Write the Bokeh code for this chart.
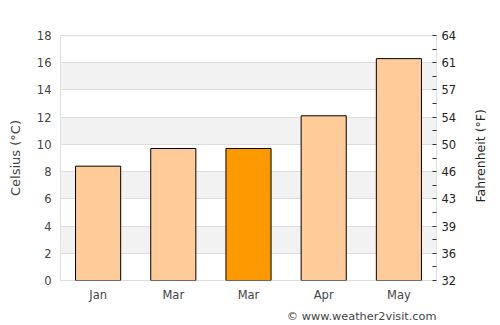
import math
from bokeh.plotting import figure
from bokeh.layouts import row
from bokeh.models import LinearAxis, FixedTicker, Range1d, Title, Label, ColumnDataSource
from bokeh.embed import file_html
from bokeh.resources import INLINE

months = ["Jan", "Mar", "Mar", "Apr", "May"]
celsius = [8.4, 9.7, 9.7, 12.1, 16.3]
colors = ["#FFCC99", "#FFCC99", "#FF9900", "#FFCC99", "#FFCC99"]
c_ticks = [0, 2, 4, 6, 8, 10, 12, 14, 16, 18]
f_labels = ["32", "36", "39", "43", "46", "50", "54", "57", "61", "64"]

xs = [i + 0.5 for i in range(len(months))]
src = ColumnDataSource(dict(x=xs, top=celsius, color=colors))

p = figure(width=470, height=325, output_backend="svg", toolbar_location=None,
           x_range=Range1d(0, len(months)), y_range=Range1d(0, 18),
           min_border_left=60, min_border_right=34, min_border_top=35, min_border_bottom=45)

p.vbar(x="x", top="top", width=0.6, fill_color="color", line_color="black", line_width=1, source=src)

p.outline_line_color = "#dddddd"
p.xgrid.visible = False
p.ygrid.ticker = FixedTicker(ticks=c_ticks[1:])
p.ygrid.grid_line_color = "#dddddd"
p.ygrid.band_fill_color = "#f2f2f2"
p.ygrid.band_fill_alpha = 1.0

FONT = "DejaVu Sans"


def no_ticks(ax):
    ax.axis_line_color = None
    ax.major_tick_line_color = None
    ax.minor_tick_line_color = None
    ax.major_tick_in = 0
    ax.major_tick_out = 0
    ax.minor_tick_in = 0
    ax.minor_tick_out = 0


# left axis
ya = p.yaxis[0]
no_ticks(ya)
ya.ticker = FixedTicker(ticks=c_ticks)
ya.axis_label = "Celsius (°C)"
ya.major_label_text_font_size = "11.5px"
ya.major_label_text_color = "#444444"
ya.major_label_text_font = FONT
ya.major_label_standoff = 9
ya.axis_label_text_font_size = "13px"
ya.axis_label_text_font_style = "normal"
ya.axis_label_text_color = "#444444"
ya.axis_label_text_font = FONT
ya.axis_label_standoff = 11

# bottom axis
xa = p.xaxis[0]
no_ticks(xa)
xa.ticker = FixedTicker(ticks=xs)
xa.major_label_overrides = {x: m for x, m in zip(xs, months)}
xa.major_label_text_font_size = "11.5px"
xa.major_label_text_color = "#444444"
xa.major_label_text_font = FONT
xa.major_label_standoff = 7

# right axis (Fahrenheit ticks)
ra = LinearAxis(ticker=FixedTicker(ticks=c_ticks, minor_ticks=[c + 1 for c in c_ticks[:-1]]),
                major_label_overrides={c: f for c, f in zip(c_ticks, f_labels)})
ra.axis_line_color = None
ra.major_tick_line_color = "#333333"
ra.minor_tick_line_color = "#333333"
ra.major_tick_in = 4
ra.major_tick_out = 0
ra.minor_tick_in = 4
ra.minor_tick_out = 0
ra.major_label_text_font_size = "11.5px"
ra.major_label_text_color = "#222222"
ra.major_label_text_font = FONT
ra.major_label_standoff = 5
p.add_layout(ra, "right")

credit = Title(text="© www.weather2visit.com", align="right",
               text_font_size="11.3px", text_color="#444444", text_font=FONT,
               text_font_style="normal", standoff=6, offset=0)
p.add_layout(credit, "below")

# narrow strip holding the right axis title (reads bottom to top)
p2 = figure(width=30, height=325, output_backend="svg", toolbar_location=None,
            x_range=Range1d(0, 1), y_range=Range1d(0, 1), min_border=0)
p2.axis.visible = False
p2.grid.visible = False
p2.outline_line_color = None
p2.add_layout(Label(x=0.33, y=0.509, text="Fahrenheit (°F)", angle=math.pi / 2,
                    text_align="center", text_baseline="middle", text_font_size="12.5px",
                    text_color="#222222", text_font=FONT))

layout = row(p, p2, spacing=0)
open("out.html", "w").write(file_html(layout, INLINE))
